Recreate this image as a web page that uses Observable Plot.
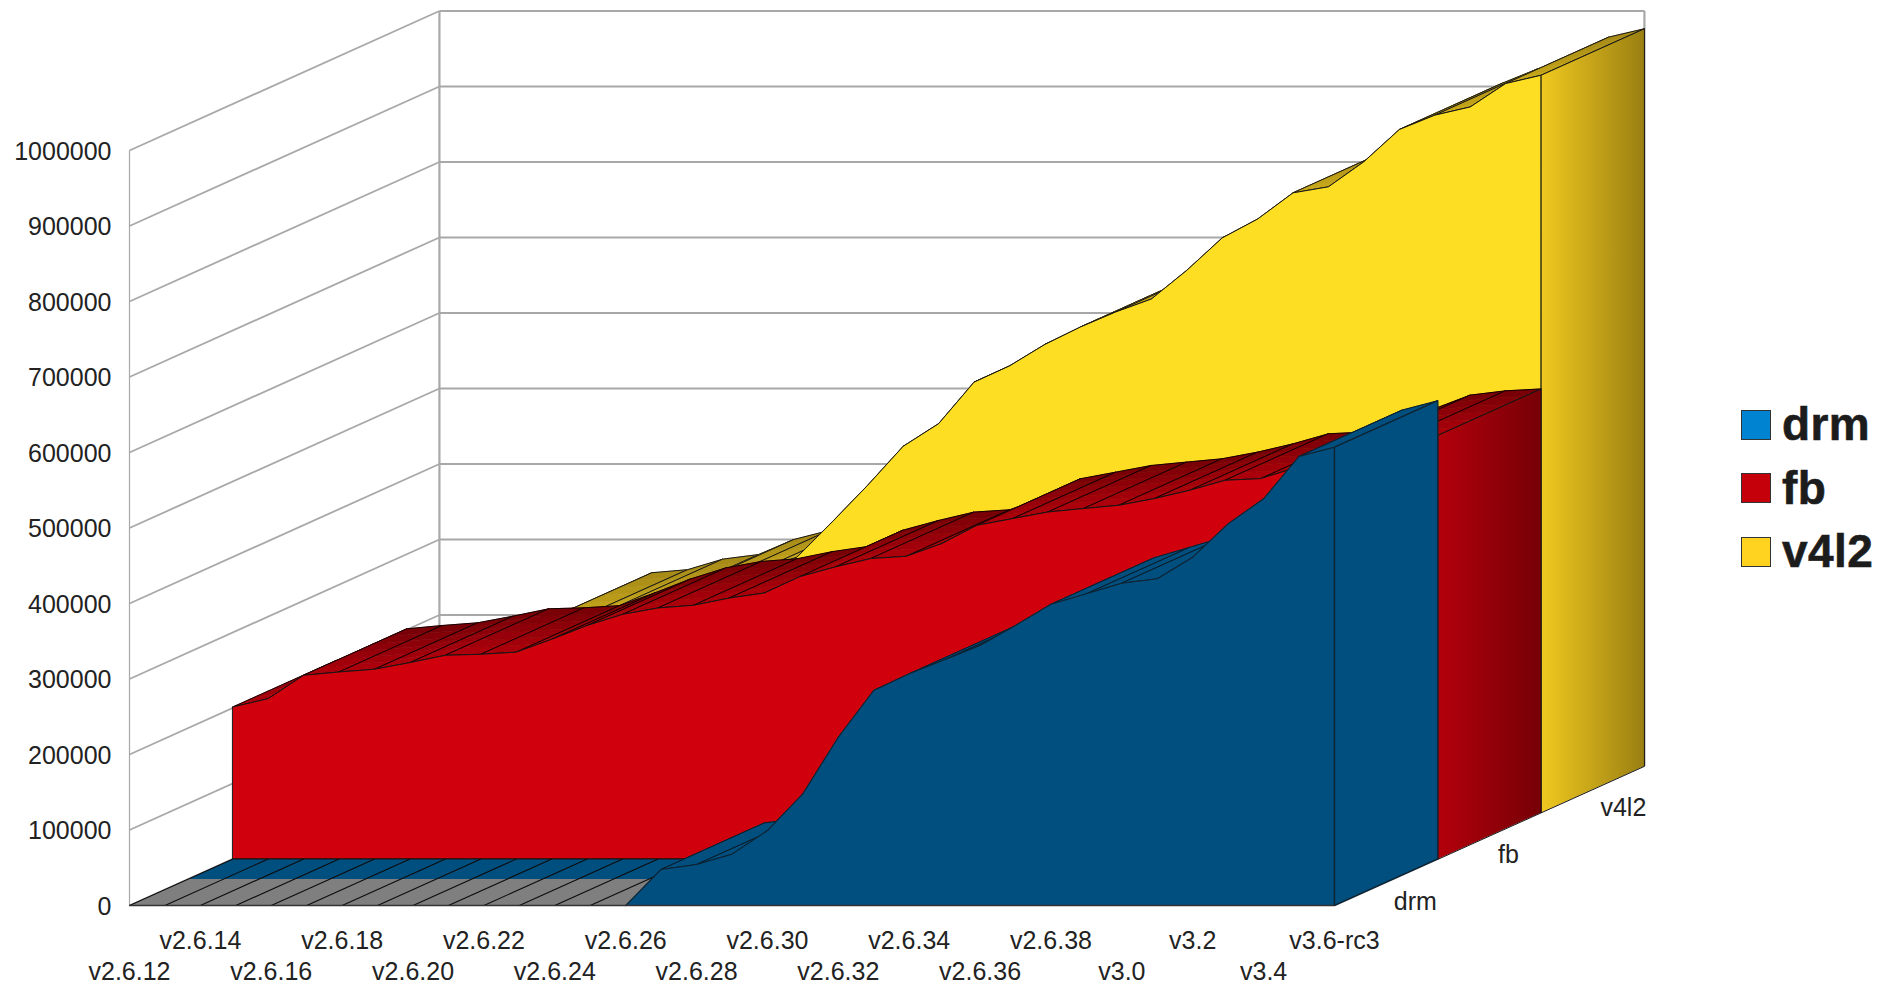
<!DOCTYPE html>
<html>
<head>
<meta charset="utf-8">
<title>Kernel subsystem growth: drm, fb, v4l2</title>
<script src="https://cdn.jsdelivr.net/npm/d3@7"></script>
<script src="https://cdn.jsdelivr.net/npm/@observablehq/plot@0.6"></script>
<style>
  html, body { margin: 0; padding: 0; background: #fff; overflow: hidden; }
  #chart { position: relative; width: 1892px; height: 986px; }
  #chart svg { position: absolute; left: 0; top: 0; background: transparent; }
  .legend { position: absolute; left: 1741px; top: 393px; font: bold 46px "Liberation Sans", Arial, sans-serif; color: #1c1c1c; -webkit-text-stroke: 0.6px #1c1c1c; letter-spacing: 0.4px; }
  .legend div { height: 63.5px; line-height: 63.5px; display: flex; align-items: center; white-space: nowrap; }
  .legend i { display: block; width: 28px; height: 28px; border: 1px solid #333; margin-right: 11px; }
</style>
</head>
<body>
<div id="chart"></div>
<script>
// Kernel releases along the horizontal axis
const releases = [
  "v2.6.12", "v2.6.13", "v2.6.14", "v2.6.15", "v2.6.16", "v2.6.17", "v2.6.18",
  "v2.6.19", "v2.6.20", "v2.6.21", "v2.6.22", "v2.6.23", "v2.6.24", "v2.6.25",
  "v2.6.26", "v2.6.27", "v2.6.28", "v2.6.29", "v2.6.30", "v2.6.31", "v2.6.32",
  "v2.6.33", "v2.6.34", "v2.6.35", "v2.6.36", "v2.6.37", "v2.6.38", "v2.6.39",
  "v3.0", "v3.1", "v3.2", "v3.3", "v3.4", "v3.5", "v3.6-rc3"
];

// Lines of code per subsystem, one value per release
const drm = [
  0, 0, 0, 0, 0, 0, 0, 0, 0, 0, 0, 0, 0, 0, 0,
  47700, 54300, 68000, 99300, 147900, 222900, 284800, 306900, 325400, 344400,
  370900, 399000, 412800, 426900, 432700, 461300, 505500, 538700, 594700, 607000
];
const fb = [
  201300, 212400, 243300, 247700, 251300, 260100, 269800, 271100, 274000, 291000,
  309300, 324000, 332500, 336000, 345500, 352300, 374000, 386800, 397900, 400900,
  417700, 442000, 450800, 459600, 464100, 468500, 477300, 488300, 501600, 503800,
  518400, 535000, 552800, 558500, 561000
];
const v4l2 = [
  120000, 150000, 180000, 200000, 212000, 234000, 256000, 260000, 274000, 280000,
  300000, 312000, 322000, 338000, 385000, 433500, 485000, 515000, 570000, 591500,
  620000, 643000, 663000, 680000, 718000, 761000, 786000, 820700, 828700, 862000,
  904600, 923600, 934500, 965500, 976500
];

const valueTicks = [0, 100000, 200000, 300000, 400000, 500000, 600000, 700000, 800000, 900000, 1000000];
const upperTicks = [2, 6, 10, 14, 18, 22, 26, 30, 34];
const lowerTicks = [0, 4, 8, 12, 16, 20, 24, 28, 32];
const seriesNames = ["drm", "fb", "v4l2"];

// Oblique projection: full chart depth expressed in axis units
const DEPTH_X = 8.745;
const DEPTH_Y = 184800;
const project = (i, v, d) => ({x: i + DEPTH_X * d, y: v + DEPTH_Y * d});

const FONT = '"Liberation Sans", Arial, sans-serif';
const last = releases.length - 1;

// Top surface of a series: for every pair of neighbouring releases, a quadrilateral
// built from thin strips shaded front to back, followed by its outline.
function ribbon(values, d0, d1, front, back, edge, strips) {
  const rows = [];
  const shade = d3.interpolateRgb(front, back);
  let id = 0;
  const quad = (i, a, b, t0, t1, fill, stroke, sw) => {
    id++;
    const da = d0 + (d1 - d0) * t0, db = d0 + (d1 - d0) * t1;
    [[i, a, da], [i + 1, b, da], [i + 1, b, db], [i, a, db]].forEach(([n, v, d]) =>
      rows.push({id, fill, stroke, sw, ...project(n, v, d)}));
  };
  for (let i = 0; i < last; i++) {
    const a = values[i], b = values[i + 1];
    if (a === 0 && b === 0) continue;
    for (let s = 0; s < strips; s++) {
      const c = shade((s + 0.5) / strips);
      quad(i, a, b, s / strips, (s + 1) / strips, c, c, 0.6);
    }
    quad(i, a, b, 0, 1, "none", edge, 1);
  }
  return rows;
}

// Front face of a series: the profile closed along the floor
function face(values, d) {
  const first = Math.max(0, values.findLastIndex(v => v === 0));
  const top = values.map((v, i) => project(i, v, d)).slice(first);
  return [...top, project(last, 0, d), project(first, 0, d)];
}

// End cap on the right of a series
const cap = (values, d0, d1) => [
  project(last, 0, d0), project(last, values[last], d0),
  project(last, values[last], d1), project(last, 0, d1)
];

const closed = (data, options) => Plot.line(data, {
  x: "x", y: "y", curve: "linear-closed", strokeLinejoin: "round", ...options
});
const surface = data => closed(data, {z: "id", fill: "fill", stroke: "stroke", strokeWidth: "sw"});
const EDGE = "#161616";

// Linear gradients used by the shaded end caps
function gradients() {
  const defs = d3.create("svg:defs");
  [["capFb", "#b3000c", "#760006"], ["capV4l2", "#f0c91f", "#9a7f12"]].forEach(([id, from, to]) => {
    const g = defs.append("linearGradient").attr("id", id);
    g.append("stop").attr("offset", "0%").attr("stop-color", from);
    g.append("stop").attr("offset", "100%").attr("stop-color", to);
  });
  return defs.node();
}

// Bare floor under drm before its first release with code
const zeroEnd = drm.findLastIndex(v => v === 0);
const FLOOR_SPLIT = 0.19;
const floorGray = [project(0, 0, 0), project(zeroEnd + 1, 0, 0), project(zeroEnd + 1, 0, FLOOR_SPLIT), project(0, 0, FLOOR_SPLIT)];
const floorBlue = [project(0, 0, FLOOR_SPLIT), project(zeroEnd + 1, 0, FLOOR_SPLIT), project(zeroEnd + 1, 0, 1 / 3), project(0, 0, 1 / 3)];
const hatches = d3.range(0, zeroEnd + 1).map(i => ({
  x1: i, y1: 0, x2: i + DEPTH_X / 3, y2: DEPTH_Y / 3
}));

// Labels for the depth axis, placed on the floor in front of each band
const depthLabels = [
  {name: seriesNames[0], x: last + DEPTH_X * 0.261, y: 4000},
  {name: seriesNames[1], x: last + DEPTH_X * 0.561, y: 67500},
  {name: seriesNames[2], x: last + DEPTH_X * 0.932, y: 128500}
];

const GRID = "#a8a8a8";
const chart = Plot.plot({
  width: 1892,
  height: 986,
  marginLeft: 129,
  marginRight: 558,
  marginTop: 150,
  marginBottom: 81,
  x: {domain: [0, last]},
  y: {domain: [0, 1000000]},
  color: {type: "identity"},
  style: {fontFamily: FONT, background: "transparent", overflow: "visible"},
  marks: [
    gradients,

    // Walls
    Plot.link(valueTicks, {x1: 0, y1: d => d, x2: DEPTH_X, y2: d => d + DEPTH_Y, stroke: GRID, strokeWidth: 1.8}),
    Plot.link(valueTicks, {x1: DEPTH_X, y1: d => d + DEPTH_Y, x2: last + DEPTH_X, y2: d => d + DEPTH_Y, stroke: GRID, strokeWidth: 2.2}),
    Plot.link([0], {x1: 0, y1: 0, x2: 0, y2: 1000000, stroke: GRID, strokeWidth: 1.2}),
    Plot.link([0], {x1: DEPTH_X, y1: DEPTH_Y, x2: DEPTH_X, y2: 1000000 + DEPTH_Y, stroke: GRID, strokeWidth: 2.2}),
    Plot.link([0], {x1: last + DEPTH_X, y1: DEPTH_Y, x2: last + DEPTH_X, y2: 1000000 + DEPTH_Y, stroke: GRID, strokeWidth: 2.2}),

    // v4l2, the rearmost band
    surface(ribbon(v4l2, 2 / 3, 1, "#c9a91c", "#a48815", EDGE, 6)),
    closed(face(v4l2, 2 / 3), {fill: "#fede23", stroke: EDGE, strokeWidth: 1}),
    closed(cap(v4l2, 2 / 3, 1), {fill: "url(#capV4l2)", stroke: EDGE, strokeWidth: 1}),

    // fb, the middle band
    surface(ribbon(fb, 1 / 3, 2 / 3, "#b0000d", "#740006", "#120000", 6)),
    closed(face(fb, 1 / 3), {fill: "#d0000d", stroke: EDGE, strokeWidth: 1}),
    closed(cap(fb, 1 / 3, 2 / 3), {fill: "url(#capFb)", stroke: EDGE, strokeWidth: 1}),

    // drm, the front band, with the floor it stands on
    closed(floorGray, {fill: "#7f7f7f"}),
    closed(floorBlue, {fill: "#004f7f"}),
    Plot.link(hatches, {x1: "x1", y1: "y1", x2: "x2", y2: "y2", stroke: "#0c0c0c", strokeWidth: 1.1}),
    Plot.link([0], {x1: DEPTH_X / 3, y1: DEPTH_Y / 3, x2: zeroEnd + 1 + DEPTH_X / 3, y2: DEPTH_Y / 3, stroke: "#111", strokeWidth: 1}),
    surface(ribbon(drm, 0, 1 / 3, "#004f7f", "#004f7f", "#0a1a26", 1)),
    closed(face(drm, 0), {fill: "#004f7f", stroke: "#0f2433", strokeWidth: 1.1}),
    closed(cap(drm, 0, 1 / 3), {fill: "#004f7f", stroke: "#0f2433", strokeWidth: 1.4}),
    Plot.ruleY([0], {x1: 0, x2: last, stroke: "#333", strokeWidth: 1.5}),

    // Axes
    Plot.axisY(valueTicks, {anchor: "left", tickSize: 0, tickPadding: 18, dy: 1, fontSize: 25, fill: "#222", label: null, tickFormat: d => String(d)}),
    Plot.axisX(upperTicks, {anchor: "bottom", tickSize: 0, tickPadding: 26, fontSize: 25, fill: "#222", label: null, tickFormat: i => releases[i]}),
    Plot.axisX(lowerTicks, {anchor: "bottom", tickSize: 0, tickPadding: 57, fontSize: 25, fill: "#222", label: null, tickFormat: i => releases[i]}),
    Plot.text(depthLabels, {x: "x", y: "y", text: "name", fontSize: 25, fill: "#222"})
  ]
});

const root = document.getElementById("chart");
root.appendChild(chart);

// Legend beside the chart
const legendColors = {drm: "#0084d1", fb: "#c5000b", v4l2: "#ffd320"};
const legend = document.createElement("div");
legend.className = "legend";
seriesNames.forEach(name => {
  const row = document.createElement("div");
  const swatch = document.createElement("i");
  swatch.style.background = legendColors[name];
  row.appendChild(swatch);
  row.appendChild(document.createTextNode(name));
  legend.appendChild(row);
});
root.appendChild(legend);
</script>
</body>
</html>
